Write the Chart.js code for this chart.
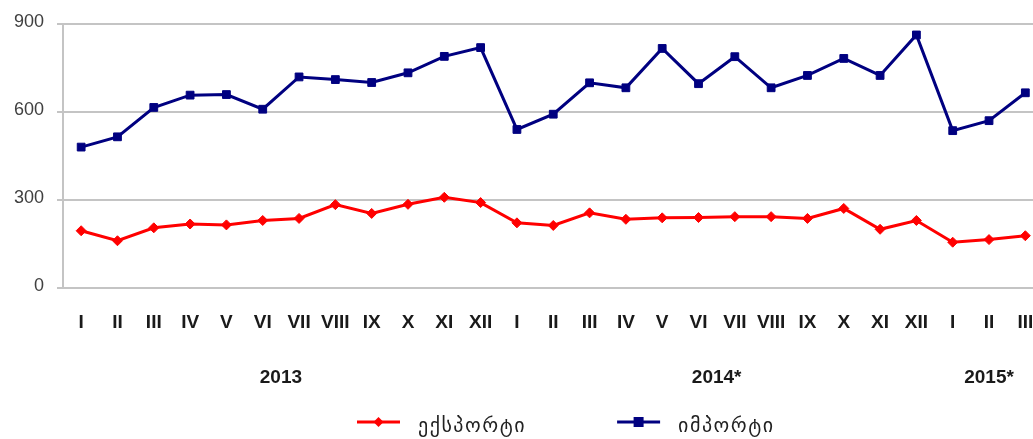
<!DOCTYPE html>
<html>
<head>
<meta charset="utf-8">
<script src="https://cdn.jsdelivr.net/npm/chart.js@4/dist/chart.umd.min.js"></script>
<style>
  html, body { margin: 0; padding: 0; background: #fff; overflow: hidden; }
  #wrap { width: 1050px; height: 439px; }
</style>
</head>
<body>
<div id="wrap"><canvas id="lineChart" width="1050" height="439"></canvas></div>
<script>
// months (roman numerals) for 2013, 2014*, first quarter 2015*
var months = ["I","II","III","IV","V","VI","VII","VIII","IX","X","XI","XII",
              "I","II","III","IV","V","VI","VII","VIII","IX","X","XI","XII",
              "I","II","III"];
var years = ["2013", "2014*", "2015*"];
var yearMonthCount = [12, 12, 3];

var exportValues = [195, 161, 205, 218, 215, 230, 237, 284, 254, 285, 309, 291,
                    222, 213, 256, 234, 239, 240, 243, 243, 237, 271, 200, 230,
                    156, 165, 178];
var importValues = [480, 515, 615, 657, 659, 609, 719, 710, 700, 733, 789, 819,
                    540, 592, 699, 682, 816, 696, 788, 682, 724, 782, 724, 862,
                    536, 570, 665];

var yTicks = [0, 300, 600, 900];

// centre of each year group, in category index units
var yearCenters = [];
var start = 0;
for (var i = 0; i < yearMonthCount.length; i++) {
    yearCenters.push(start + (yearMonthCount[i] - 1) / 2);
    start += yearMonthCount[i];
}

var gridColor = '#c4c4c4';

// legend drawn under the axes: line + marker + label
var lineLegend = {
    id: 'lineLegend',
    afterDraw: function (chart) {
        var c = chart.ctx;
        var x = 357, y = 422;
        c.save();
        c.font = '20px "DejaVu Sans"';
        c.letterSpacing = '1.5px';
        c.textBaseline = 'middle';
        chart.data.datasets.forEach(function (ds) {
            c.strokeStyle = ds.borderColor;
            c.lineWidth = 3;
            c.beginPath();
            c.moveTo(x, y);
            c.lineTo(x + 43, y);
            c.stroke();
            c.fillStyle = ds.borderColor;
            c.beginPath();
            if (ds.pointStyle === 'rect') {
                c.rect(x + 21.5 - 5, y - 5, 10, 10);
            } else {
                c.moveTo(x + 21.5, y - 5);
                c.lineTo(x + 26.5, y);
                c.lineTo(x + 21.5, y + 5);
                c.lineTo(x + 16.5, y);
                c.closePath();
            }
            c.fill();
            c.fillStyle = '#222';
            c.fillText(ds.label, x + 61, y + 5);
            x += 61 + c.measureText(ds.label).width + 91;
        });
        c.restore();
    }
};

var ctx = document.getElementById('lineChart').getContext('2d');
var chart = new Chart(ctx, {
    type: 'line',
    data: {
        labels: months,
        datasets: [{
                label: "ექსპორტი",
                data: exportValues,
                borderColor: '#ff0000',
                backgroundColor: '#ff0000',
                borderWidth: 3,
                pointStyle: 'rectRot',
                pointRadius: 5,
                pointBorderWidth: 1,
                tension: 0
            }, {
                label: "იმპორტი",
                data: importValues,
                borderColor: '#000080',
                backgroundColor: '#000080',
                borderWidth: 3,
                pointStyle: 'rect',
                pointRadius: 5.5,
                pointBorderWidth: 1,
                tension: 0
            }]
    },
    options: {
        responsive: false,
        animation: false,
        layout: { padding: { top: 19, right: 0, bottom: 42, left: 0 } },
        plugins: {
            legend: { display: false },
            tooltip: { enabled: false }
        },
        scales: {
            x: {
                type: 'category',
                offset: true,
                grid: { display: false },
                border: { display: false },
                ticks: {
                    autoSkip: false,
                    maxRotation: 0,
                    padding: 15,
                    color: '#1a1a1a',
                    font: { family: '"Liberation Sans", Arial', size: 19, weight: 'bold' }
                },
                afterFit: function (scale) { scale.height = 55; }
            },
            xYear: {
                type: 'linear',
                position: 'bottom',
                min: -0.5,
                max: months.length - 0.5,
                grid: { display: false },
                border: { display: false },
                afterBuildTicks: function (scale) {
                    scale.ticks = yearCenters.map(function (v) { return { value: v }; });
                },
                ticks: {
                    padding: 15,
                    color: '#1a1a1a',
                    font: { family: '"Liberation Sans", Arial', size: 19, weight: 'bold' },
                    callback: function (value, index) { return years[index]; }
                },
                afterFit: function (scale) { scale.height = 54; }
            },
            y: {
                min: 0,
                max: 900,
                afterBuildTicks: function (scale) {
                    scale.ticks = yTicks.map(function (v) { return { value: v }; });
                },
                grid: { color: gridColor, lineWidth: 2, tickLength: 6 },
                border: { display: true, color: gridColor, width: 2 },
                ticks: {
                    padding: 13,
                    labelOffset: -2,
                    color: '#404040',
                    font: { family: '"Liberation Sans", Arial', size: 18 }
                },
                afterFit: function (scale) { scale.width = 63; }
            }
        }
    },
    plugins: [lineLegend]
});
</script>
</body>
</html>
